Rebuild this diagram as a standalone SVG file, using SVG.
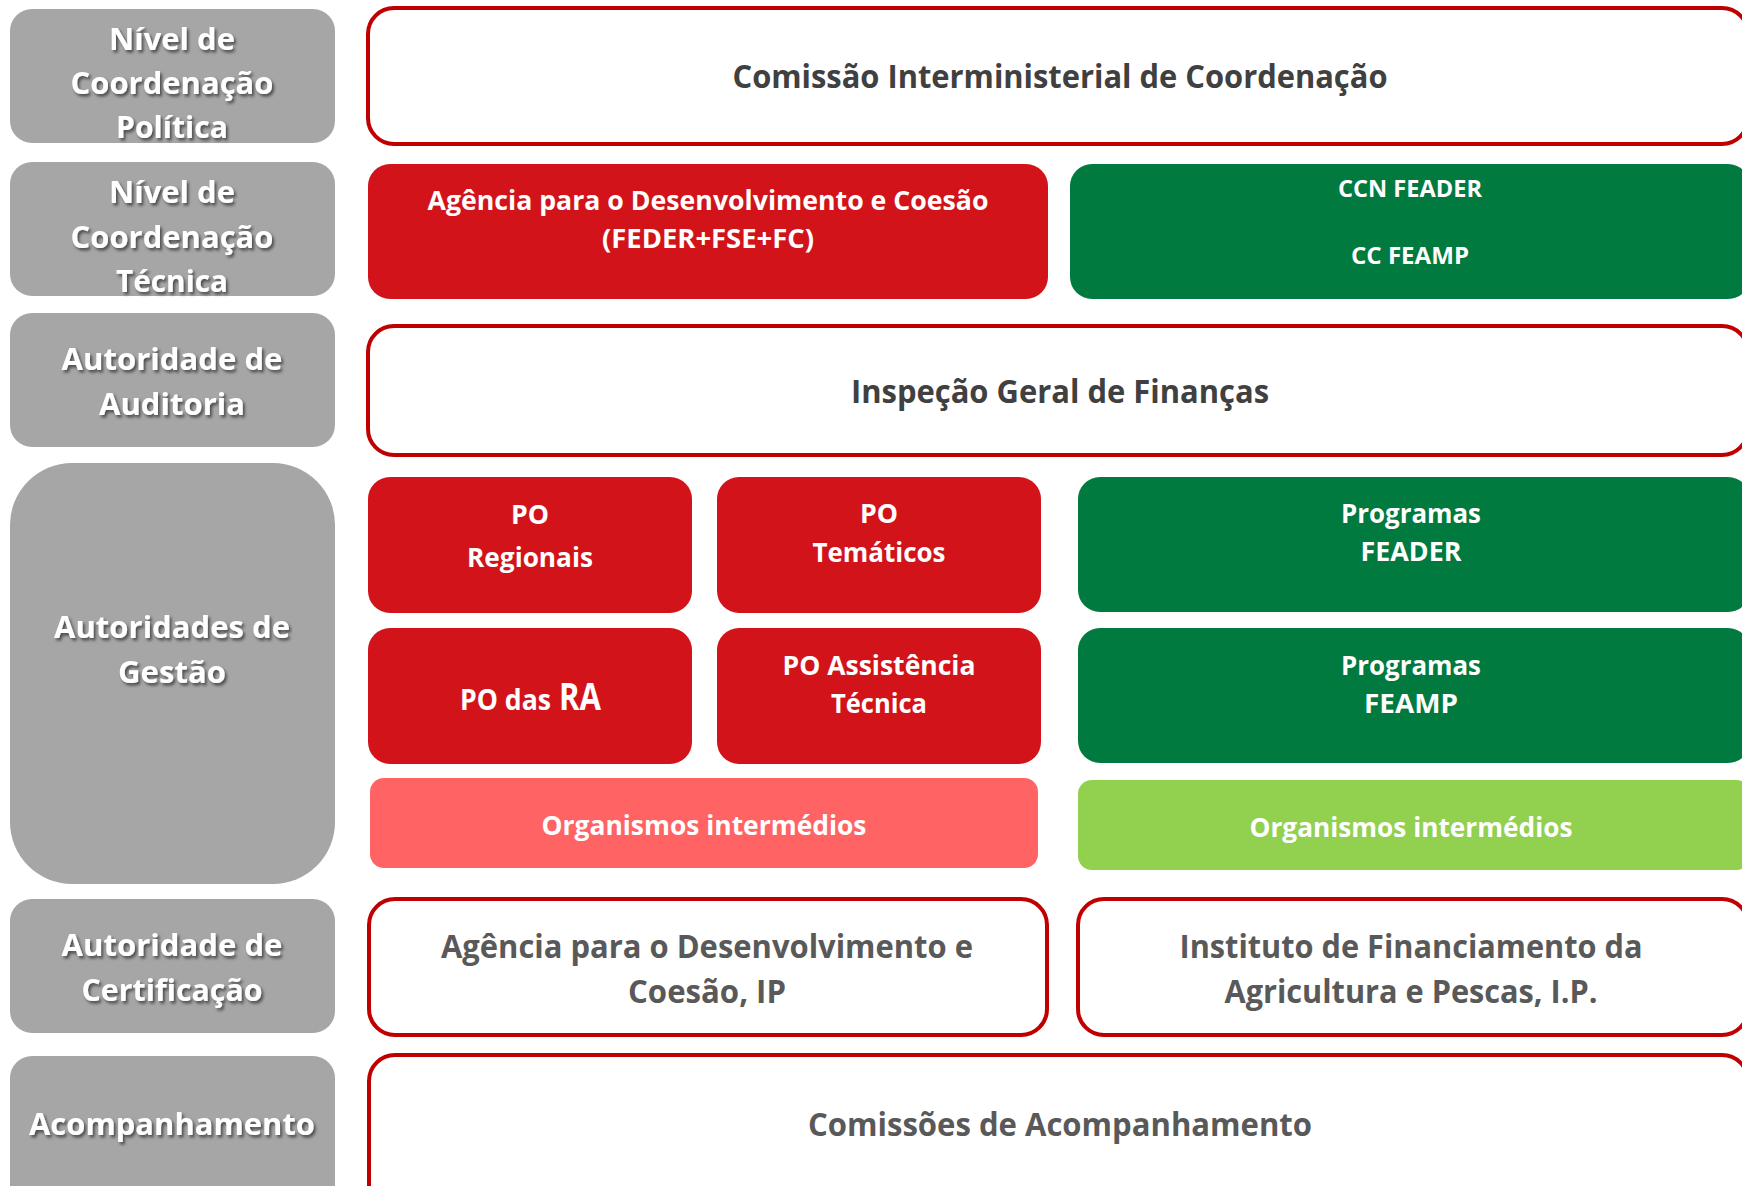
<svg xmlns="http://www.w3.org/2000/svg" width="1742" height="1186" viewBox="0 0 1742 1186">
<defs>
<style>
.lab{fill:#A6A6A6}
.out{fill:#FFFFFF;stroke:#C00000;stroke-width:4}
.red{fill:#D2141A}
.grn{fill:#007A3F}
.pink{fill:#FF6363}
.lgrn{fill:#92D050}
text{font-family:"Open Sans","Noto Sans","Liberation Sans",sans-serif;font-weight:bold;text-anchor:middle}
.lt{fill:#FFFFFF;font-size:31px;filter:url(#sh)}
.dk{fill:#404040;font-size:33px}
.gt{fill:#595959;font-size:32px}
.wt{fill:#FFFFFF;font-size:26px}
.ws{fill:#FFFFFF;font-size:23px}
</style>
<filter id="sh" x="-10%" y="-30%" width="130%" height="170%">
<feDropShadow dx="2" dy="2.5" stdDeviation="1.6" flood-color="#000000" flood-opacity="0.55"/>
</filter>
</defs>

<g id="connectors"></g>

<g id="lab-politica">
<rect class="lab" x="10" y="9" width="325" height="134" rx="22"/>
<text class="lt" x="172" y="50" textLength="126" lengthAdjust="spacingAndGlyphs">Nível de</text>
<text class="lt" x="172" y="94" textLength="203" lengthAdjust="spacingAndGlyphs">Coordenação</text>
<text class="lt" x="172" y="138" textLength="112" lengthAdjust="spacingAndGlyphs">Política</text>
</g>
<g id="lab-tecnica">
<rect class="lab" x="10" y="162" width="325" height="134" rx="22"/>
<text class="lt" x="172" y="203" textLength="126" lengthAdjust="spacingAndGlyphs">Nível de</text>
<text class="lt" x="172" y="248" textLength="203" lengthAdjust="spacingAndGlyphs">Coordenação</text>
<text class="lt" x="172" y="292" textLength="112" lengthAdjust="spacingAndGlyphs">Técnica</text>
</g>
<g id="lab-auditoria">
<rect class="lab" x="10" y="313" width="325" height="134" rx="22"/>
<text class="lt" x="172" y="370" textLength="221" lengthAdjust="spacingAndGlyphs">Autoridade de</text>
<text class="lt" x="172" y="415" textLength="146" lengthAdjust="spacingAndGlyphs">Auditoria</text>
</g>
<g id="lab-gestao">
<rect class="lab" x="10" y="463" width="325" height="421" rx="62"/>
<text class="lt" x="172" y="638" textLength="236" lengthAdjust="spacingAndGlyphs">Autoridades de</text>
<text class="lt" x="172" y="683" textLength="108" lengthAdjust="spacingAndGlyphs">Gestão</text>
</g>
<g id="lab-certificacao">
<rect class="lab" x="10" y="899" width="325" height="134" rx="22"/>
<text class="lt" x="172" y="956" textLength="221" lengthAdjust="spacingAndGlyphs">Autoridade de</text>
<text class="lt" x="172" y="1001" textLength="181" lengthAdjust="spacingAndGlyphs">Certificação</text>
</g>
<g id="lab-acompanhamento">
<rect class="lab" x="10" y="1056" width="325" height="160" rx="22"/>
<text class="lt" x="172" y="1135" textLength="286" lengthAdjust="spacingAndGlyphs">Acompanhamento</text>
</g>

<g id="comissao-interministerial">
<rect class="out" x="368" y="8" width="1380" height="136" rx="26"/>
<text class="dk" x="1060" y="88" textLength="655" lengthAdjust="spacingAndGlyphs">Comissão Interministerial de Coordenação</text>
</g>
<g id="adc-tecnica">
<rect class="red" x="368" y="164" width="680" height="135" rx="22"/>
<text class="wt" x="708" y="210" textLength="561" lengthAdjust="spacingAndGlyphs">Agência para o Desenvolvimento e Coesão</text>
<text class="wt" x="708" y="248" textLength="212" lengthAdjust="spacingAndGlyphs">(FEDER+FSE+FC)</text>
</g>
<g id="ccn-feader">
<rect class="grn" x="1070" y="164" width="680" height="135" rx="22"/>
<text class="ws" x="1410" y="197" textLength="144" lengthAdjust="spacingAndGlyphs">CCN FEADER</text>
<text class="ws" x="1410" y="264" textLength="118" lengthAdjust="spacingAndGlyphs">CC FEAMP</text>
</g>
<g id="igf">
<rect class="out" x="368" y="326" width="1380" height="129" rx="26"/>
<text class="dk" x="1060" y="403" textLength="418" lengthAdjust="spacingAndGlyphs">Inspeção Geral de Finanças</text>
</g>
<g id="po-regionais">
<rect class="red" x="368" y="477" width="324" height="136" rx="22"/>
<text class="wt" x="530" y="524" textLength="38" lengthAdjust="spacingAndGlyphs">PO</text>
<text class="wt" x="530" y="567" textLength="126" lengthAdjust="spacingAndGlyphs">Regionais</text>
</g>
<g id="po-tematicos">
<rect class="red" x="717" y="477" width="324" height="136" rx="22"/>
<text class="wt" x="879" y="523" textLength="38" lengthAdjust="spacingAndGlyphs">PO</text>
<text class="wt" x="879" y="562" textLength="133" lengthAdjust="spacingAndGlyphs">Temáticos</text>
</g>
<g id="po-ra">
<rect class="red" x="368" y="628" width="324" height="136" rx="22"/>
<text class="wt" x="460" y="710" style="text-anchor:start;font-size:28px" textLength="91" lengthAdjust="spacingAndGlyphs">PO das</text>
<text class="wt" x="559" y="710" style="text-anchor:start;font-size:38px" textLength="42" lengthAdjust="spacingAndGlyphs">RA</text>
</g>
<g id="po-at">
<rect class="red" x="717" y="628" width="324" height="136" rx="22"/>
<text class="wt" x="879" y="675" textLength="193" lengthAdjust="spacingAndGlyphs">PO Assistência</text>
<text class="wt" x="879" y="713" textLength="96" lengthAdjust="spacingAndGlyphs">Técnica</text>
</g>
<g id="oi-fundos">
<rect class="pink" x="370" y="778" width="668" height="90" rx="14"/>
<text class="wt" x="704" y="835" textLength="325" lengthAdjust="spacingAndGlyphs">Organismos intermédios</text>
</g>
<g id="programas-feader">
<rect class="grn" x="1078" y="477" width="672" height="135" rx="22"/>
<text class="wt" x="1411" y="523" textLength="140" lengthAdjust="spacingAndGlyphs">Programas</text>
<text class="wt" x="1411" y="561" textLength="101" lengthAdjust="spacingAndGlyphs">FEADER</text>
</g>
<g id="programas-feamp">
<rect class="grn" x="1078" y="628" width="672" height="135" rx="22"/>
<text class="wt" x="1411" y="675" textLength="140" lengthAdjust="spacingAndGlyphs">Programas</text>
<text class="wt" x="1411" y="713" textLength="94" lengthAdjust="spacingAndGlyphs">FEAMP</text>
</g>
<g id="oi-agricultura">
<rect class="lgrn" x="1078" y="780" width="672" height="90" rx="14"/>
<text class="wt" x="1411" y="837" textLength="323" lengthAdjust="spacingAndGlyphs">Organismos intermédios</text>
</g>
<g id="cert-adc">
<rect class="out" x="369" y="899" width="678" height="136" rx="26"/>
<text class="gt" x="707" y="958" textLength="532" lengthAdjust="spacingAndGlyphs">Agência para o Desenvolvimento e</text>
<text class="gt" x="707" y="1003" textLength="158" lengthAdjust="spacingAndGlyphs">Coesão, IP</text>
</g>
<g id="cert-ifap">
<rect class="out" x="1078" y="899" width="670" height="136" rx="26"/>
<text class="gt" x="1411" y="958" textLength="463" lengthAdjust="spacingAndGlyphs">Instituto de Financiamento da</text>
<text class="gt" x="1411" y="1003" textLength="373" lengthAdjust="spacingAndGlyphs">Agricultura e Pescas, I.P.</text>
</g>
<g id="comissoes-acompanhamento">
<rect class="out" x="369" y="1055" width="1379" height="170" rx="26"/>
<text class="gt" x="1060" y="1136" textLength="504" lengthAdjust="spacingAndGlyphs">Comissões de Acompanhamento</text>
</g>
</svg>
